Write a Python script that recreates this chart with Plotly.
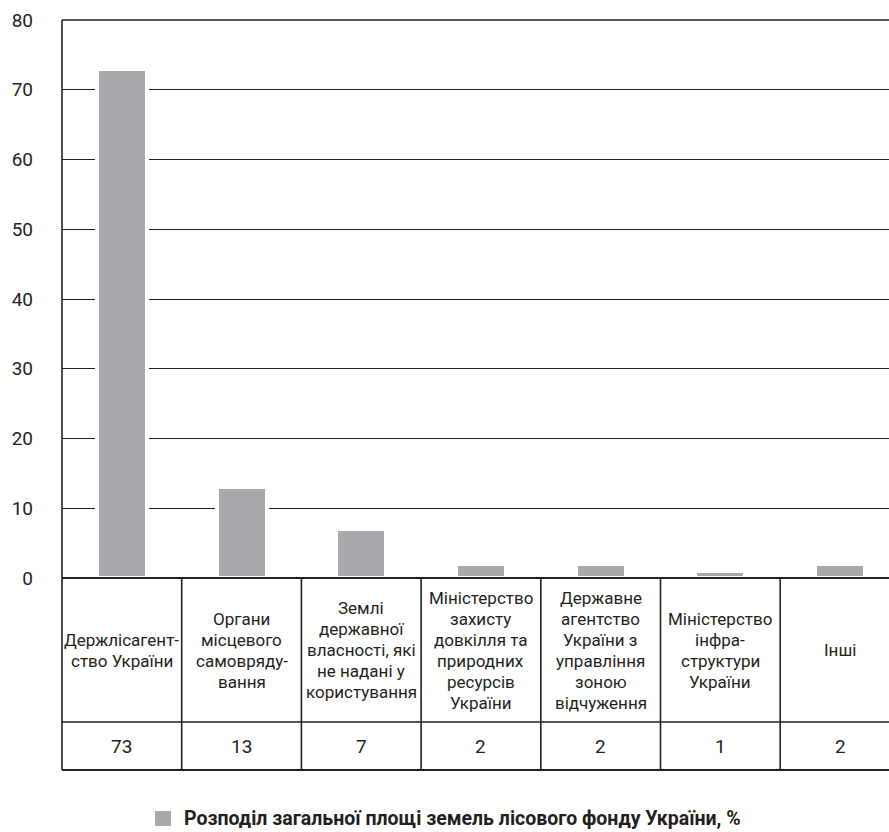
import plotly.graph_objects as go

# ---------------- data ----------------
categories = [
    "Держлісагент-<br>ство України",
    "Органи<br>місцевого<br>самовряду-<br>вання",
    "Землі<br>державної<br>власності, які<br>не надані у<br>користування",
    "Міністерство<br>захисту<br>довкілля та<br>природних<br>ресурсів<br>України",
    "Державне<br>агентство<br>України з<br>управління<br>зоною<br>відчуження",
    "Міністерство<br>інфра-<br>структури<br>України",
    "Інші",
]
values = [73, 13, 7, 2, 2, 1, 2]
y_ticks = [0, 10, 20, 30, 40, 50, 60, 70, 80]
series_name = "Розподіл загальної площі земель лісового фонду України, %"

# ---------------- layout constants ----------------
W, H = 889, 832
ML, MT, MB, MR = 62, 20, 62, 0
PLOT_W = W - ML - MR
PLOT_H = H - MT - MB
COL_PX = 119.7
X_MIN = -0.5
X_MAX = X_MIN + PLOT_W / COL_PX
CHART_PX = 558.0                      # height of the 0..80 part
PX_PER_UNIT = CHART_PX / y_ticks[-1]
Y_BOT = -(PLOT_H - CHART_PX) / PX_PER_UNIT
Y_SEP = -144.0 / PX_PER_UNIT
LINE_UNITS = 21.0 / PX_PER_UNIT

FONT = "Roboto, Open Sans, sans-serif"
INK = "#231f20"
BAR = "#a7a9ac"

x_pos = list(range(len(categories)))

fig = go.Figure()
fig.add_trace(go.Bar(
    x=x_pos, y=values, name=series_name,
    width=50 / COL_PX,
    marker=dict(color=BAR, line=dict(color="white", width=4)),
    showlegend=False,
    hoverinfo="y",
))

shapes = []
line = dict(color=INK, width=1.6)
# outer borders
shapes.append(dict(type="line", xref="paper", yref="paper", x0=0, x1=0, y0=0, y1=1, line=line, layer="above"))
shapes.append(dict(type="line", xref="paper", yref="paper", x0=0, x1=1, y0=1, y1=1, line=line, layer="above"))
shapes.append(dict(type="line", xref="paper", yref="y", x0=0, x1=1, y0=0, y1=0, line=dict(color=INK, width=2), layer="above"))
shapes.append(dict(type="line", xref="paper", yref="y", x0=0, x1=1, y0=Y_SEP, y1=Y_SEP, line=line, layer="above"))
shapes.append(dict(type="line", xref="paper", yref="paper", x0=0, x1=1, y0=0, y1=0, line=dict(color=INK, width=2), layer="above"))
for i in x_pos:
    shapes.append(dict(type="line", xref="x", yref="y", x0=i + 0.5, x1=i + 0.5, y0=Y_BOT, y1=0,
                       line=line, layer="above"))

annotations = []
label_center = Y_SEP / 2
for i, cat in enumerate(categories):
    lines = cat.split("<br>")
    n = len(lines)
    for j, t in enumerate(lines):
        y = label_center + ((n - 1) / 2 - j) * LINE_UNITS
        annotations.append(dict(x=i, y=y, xref="x", yref="y", text=t, showarrow=False,
                                xanchor="center", yanchor="middle",
                                font=dict(family=FONT, size=17, color=INK)))
    annotations.append(dict(x=i, y=(Y_SEP + Y_BOT) / 2, xref="x", yref="y", text=str(values[i]),
                            showarrow=False, xanchor="center", yanchor="middle",
                            font=dict(family=FONT, size=19, color=INK)))

# custom legend
def px_x(p):
    return (p - ML) / PLOT_W

def px_y(p):
    return (H - MB - p) / PLOT_H

shapes.append(dict(type="rect", xref="paper", yref="paper",
                   x0=px_x(155), x1=px_x(171), y0=px_y(826), y1=px_y(811),
                   fillcolor=BAR, line=dict(width=0)))
annotations.append(dict(x=px_x(182), y=px_y(818.5), xref="paper", yref="paper",
                        text="<b>" + series_name + "</b>", showarrow=False,
                        xanchor="left", yanchor="middle",
                        font=dict(family=FONT, size=19.5, color=INK)))

fig.update_layout(
    width=W, height=H,
    margin=dict(l=ML, r=MR, t=MT, b=MB, pad=0),
    paper_bgcolor="white", plot_bgcolor="white",
    bargap=0,
    xaxis=dict(range=[X_MIN, X_MAX], showticklabels=False, showgrid=False,
               zeroline=False, showline=False, ticks="", fixedrange=True),
    yaxis=dict(range=[Y_BOT, y_ticks[-1]], tickmode="array", tickvals=y_ticks,
               ticktext=[str(v) for v in y_ticks],
               showgrid=True, gridcolor=INK, gridwidth=1.3, zeroline=False,
               showline=False, ticks="", ticklabelstandoff=28,
               tickfont=dict(family=FONT, size=19, color=INK), fixedrange=True),
    shapes=shapes,
    annotations=annotations,
    showlegend=False,
)

fig.write_html("out.html")
